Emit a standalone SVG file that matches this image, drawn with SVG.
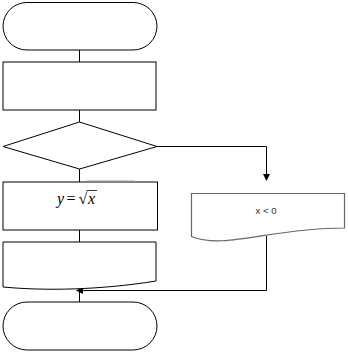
<svg xmlns="http://www.w3.org/2000/svg" width="348" height="352" viewBox="0 0 348 352">
<style>
.s{fill:#fff;stroke:#000;stroke-width:1}
.g{fill:#fff;stroke:#666;stroke-width:1.2}
.c{fill:none;stroke:#000;stroke-width:1}
.ah{fill:#000;stroke:none}
.m{font-family:"Liberation Serif",serif;font-size:16px}
</style>
<rect width="348" height="352" fill="#fff"/>
<g id="connectors">
<line class="c" x1="79.5" y1="50" x2="79.5" y2="62"/>
<line class="c" x1="79.5" y1="110" x2="79.5" y2="122"/>
<line class="c" x1="79.5" y1="169" x2="79.5" y2="182"/>
<line class="c" x1="79.5" y1="230" x2="79.5" y2="242"/>
<line class="c" x1="79.5" y1="289" x2="79.5" y2="302"/>
<polyline class="c" points="157,146.5 266.5,146.5 266.5,175"/>
<polygon class="ah" points="263,174 270,174 266.5,181"/>
<polyline class="c" points="266.5,236 266.5,290.5 82,290.5"/>
<polygon class="ah" points="76,290.5 83,287 83,294"/>
</g>
<g id="start">
<rect class="s" x="3" y="2.5" width="154" height="47.5" rx="24" ry="23.75"/>
</g>
<g id="input">
<rect class="s" x="3" y="62" width="153" height="48"/>
</g>
<g id="decision">
<polygon class="s" points="79.5,122 157,146.5 79.5,169 3,146.5"/>
</g>
<g id="compute">
<rect class="s" x="3" y="182" width="154.5" height="48"/>
<line x1="87" y1="181" x2="135" y2="181" stroke="#999" stroke-width="1"/>
<text class="m" y="203.5"><tspan x="57" font-style="italic">y</tspan><tspan x="66.5">=</tspan><tspan x="78.5">√</tspan><tspan x="88" font-style="italic">x</tspan></text>
<line x1="86.5" y1="190.5" x2="97" y2="190.5" stroke="#000" stroke-width="0.8"/>
</g>
<g id="output">
<path class="s" d="M3,242 H156 V281 C100,290 45,291 3,287 Z"/>
</g>
<g id="error">
<path class="g" d="M191.5,193.5 H344.5 V228 C270,228 225,250 191.5,236.5 Z"/>
<text x="266" y="213.5" text-anchor="middle" font-family="Liberation Sans, Arial, sans-serif" font-size="9.5" fill="#333">x &lt; 0</text>
</g>
<g id="end">
<rect class="s" x="3" y="302" width="154" height="48" rx="24" ry="24"/>
</g>
</svg>
